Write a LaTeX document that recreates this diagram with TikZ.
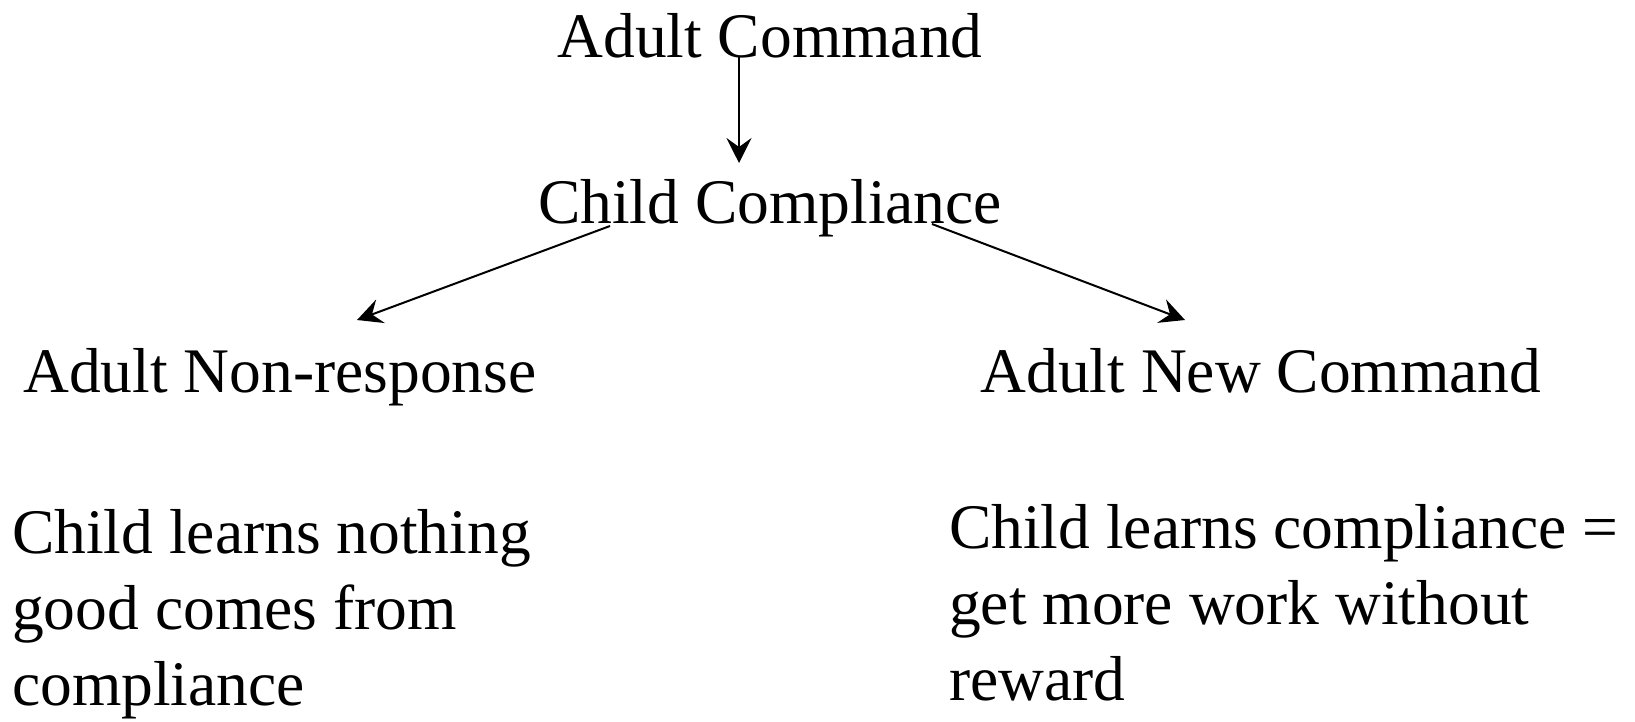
\documentclass[tikz,border=0pt]{standalone}
\usepackage{fontspec}
\setmainfont{Liberation Serif}
\usetikzlibrary{arrows.meta}
\tikzset{
  lbl/.style={inner sep=0pt, font=\fontsize{63.5pt}{76pt}\selectfont},
  conn/.style={line width=2pt, -{Stealth[length=25pt,width=25pt,inset=9pt]}}
}
\newcommand\paralines[1]{\vtop{\baselineskip=76pt\lineskiplimit=-200pt\lineskip=0pt #1}}
\begin{document}
\begin{tikzpicture}[x=1pt,y=-1pt]
\useasboundingbox (0,0) rectangle (1635,721);
\node[lbl, anchor=base] (ac) at (770,57) {Adult Command};
\node[lbl, anchor=base] (cc) at (770,223) {Child Compliance};
\node[lbl, anchor=base] (anr) at (280,392) {Adult Non-response};
\node[lbl, anchor=base] (anc) at (1261,392) {Adult New Command};
\node[lbl, anchor=base west] (lt) at (12,553) {\paralines{\hbox{Child learns nothing}\hbox{good comes from}\hbox{compliance}}};
\node[lbl, anchor=base west] (rt) at (949,548) {\paralines{\hbox{Child learns compliance =}\hbox{get more work without}\hbox{reward}}};
\coordinate (s1) at (739,57);
\coordinate (e1) at (739,163);
\coordinate (s2) at (610,226);
\coordinate (e2) at (357,320);
\coordinate (s3) at (932,224);
\coordinate (e3) at (1185,320);
\draw[conn] (s1) -- (e1);
\draw[conn] (s2) -- (e2);
\draw[conn] (s3) -- (e3);
\end{tikzpicture}
\end{document}
